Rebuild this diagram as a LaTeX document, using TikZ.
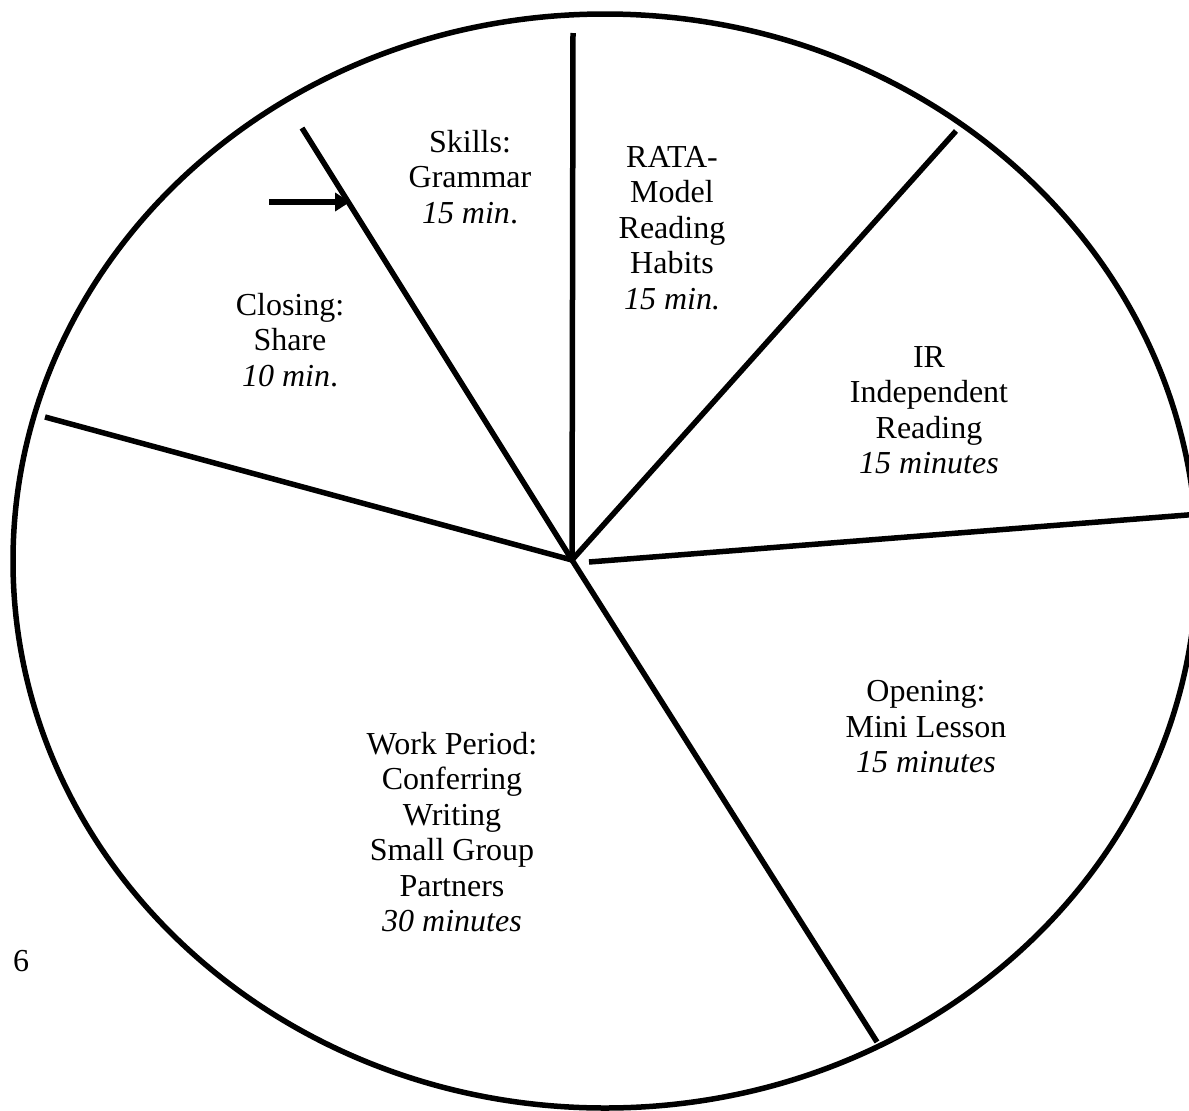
\documentclass[tikz,border=0pt]{standalone}
\usepackage{fontspec}
\setmainfont{Liberation Serif}
\usetikzlibrary{arrows.meta}
\tikzset{
  rim/.style={line width=5.5pt},
  spoke/.style={line width=5.5pt},
  lbl/.style={align=center, font=\fontsize{32}{35.5}\selectfont, inner sep=0pt},
  pointer/.style={line width=5.5pt, -{Triangle[length=15pt,width=18pt]}}
}
\begin{document}
\begin{tikzpicture}[x=1pt,y=-1pt]
\useasboundingbox (0,0) rectangle (1189,1111);
\clip (0,0) rectangle (1189,1111);
\fill[white] (0,0) rectangle (1189,1111);
\draw[rim] (605,561) ellipse [x radius=592, y radius=547];
\coordinate (c) at (572,560);
\coordinate (top) at (573,33);
\coordinate (ur) at (956,131);
\coordinate (rs) at (589,562);
\coordinate (re) at (1200,514);
\coordinate (dr) at (877,1042);
\coordinate (lf) at (45,417);
\coordinate (ul) at (302,128);
\draw[spoke] (c) -- (top);
\draw[spoke] (c) -- (ur);
\draw[spoke] (rs) -- (re);
\draw[spoke] (c) -- (dr);
\draw[spoke] (c) -- (lf);
\draw[spoke] (c) -- (ul);
\coordinate (as) at (269,202);
\coordinate (ae) at (350,202);
\draw[pointer] (as) -- (ae);
\node[lbl] (skills) at (470,177) {Skills:\\Grammar\\\textit{15 min}.};
\node[lbl] (rata) at (672,228) {RATA-\\Model\\Reading\\Habits\\\textit{15 min.}};
\node[lbl] (closing) at (290,340) {Closing:\\Share\\\textit{10 min}.};
\node[lbl] (ir) at (929,410) {IR\\Independent\\Reading\\\textit{15 minutes}};
\node[lbl] (opening) at (926,727) {Opening:\\Mini Lesson\\\textit{15 minutes}};
\node[lbl] (work) at (452,832) {Work Period:\\Conferring\\Writing\\Small Group\\Partners\\\textit{30 minutes}};
\node[lbl] (six) at (21,961) {6};
\end{tikzpicture}
\end{document}
